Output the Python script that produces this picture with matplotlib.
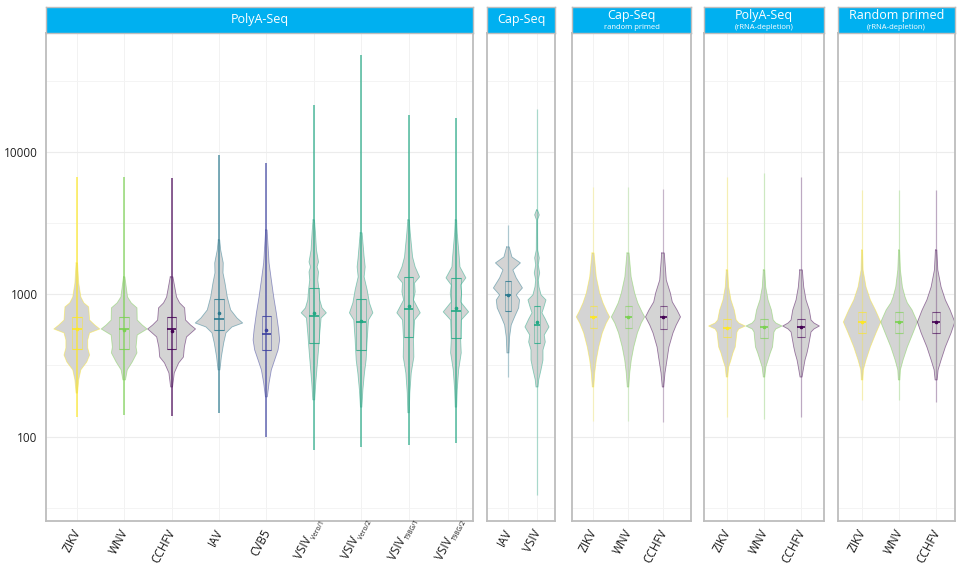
import numpy as np
import matplotlib
matplotlib.use("Agg")
import matplotlib.pyplot as plt
from matplotlib.patches import Rectangle
from matplotlib.textpath import TextPath
from matplotlib.font_manager import FontProperties

plt.rcParams["font.family"] = ["Open Sans", "DejaVu Sans"]

# ---------------- PolyA-Seq ----------------
polya_labels = ["ZIKV", "WNV", "CCHFV", "IAV", "CVB5", "VSIV", "VSIV", "VSIV", "VSIV"]
polya_label_sub = [None, None, None, None, None, "Vero/1", "Vero/2", "T98G/1", "T98G/2"]
polya_colors = ["#fde725", "#7ad151", "#440154", "#2a788e", "#3b3f9e",
                "#22a884", "#22a884", "#22a884", "#22a884"]
polya_min = [137, 142, 140, 146, 100, 80, 85, 87, 90]
polya_max = [6700, 6700, 6600, 9500, 8400, 21500, 48000, 18300, 17400]
polya_q1 = [413, 413, 413, 561, 406, 455, 406, 501, 493]
polya_median = [570, 570, 570, 670, 523, 704, 638, 789, 764]
polya_q3 = [693, 693, 693, 927, 704, 1107, 927, 1324, 1303]
polya_mean = [570, 560, 552, 740, 561, 740, 649, 828, 802]
polya_dens_y = [
    [1660, 1200, 957, 869, 815, 659, 608, 570, 535, 477, 420, 374, 334, 294, 250, 202],
    [1324, 957, 869, 802, 659, 608, 570, 517, 426, 387, 334, 294, 250],
    [1324, 957, 869, 802, 659, 608, 570, 501, 426, 362, 329, 280, 223],
    [2410, 2045, 1660, 1412, 1200, 957, 776, 681, 628, 589, 535, 455, 362, 294],
    [2830, 1660, 1260, 957, 740, 561, 477, 406, 345, 294, 238, 190],
    [3330, 2700, 2045, 1686, 1556, 1435, 1260, 1072, 912, 802, 740, 681, 535, 406, 308, 238, 181],
    [2700, 1828, 1556, 1324, 1072, 869, 740, 659, 477, 345, 280, 212, 161],
    [3330, 2700, 1828, 1556, 1324, 1200, 1038, 912, 740, 659, 477, 362, 280, 202, 147],
    [3330, 2700, 1828, 1556, 1303, 1162, 1021, 883, 752, 659, 477, 387, 294, 212, 161],
]
polya_dens_w = [
    [0.015, 0.04, 0.085, 0.15, 0.25, 0.27, 0.38, 0.485, 0.27, 0.23, 0.23, 0.27, 0.21, 0.085, 0.04, 0.015],
    [0.015, 0.07, 0.15, 0.27, 0.275, 0.38, 0.485, 0.275, 0.25, 0.27, 0.17, 0.065, 0.027],
    [0.028, 0.105, 0.17, 0.275, 0.295, 0.4, 0.505, 0.315, 0.27, 0.25, 0.15, 0.057, 0.02],
    [0.015, 0.036, 0.09, 0.085, 0.127, 0.175, 0.247, 0.38, 0.5, 0.275, 0.148, 0.1, 0.05, 0.02],
    [0.015, 0.057, 0.105, 0.155, 0.21, 0.26, 0.28, 0.247, 0.175, 0.105, 0.057, 0.02],
    [0.015, 0.036, 0.057, 0.1, 0.07, 0.1, 0.085, 0.11, 0.127, 0.175, 0.265, 0.155, 0.127, 0.1, 0.07, 0.042, 0.02],
    [0.02, 0.063, 0.085, 0.063, 0.127, 0.175, 0.247, 0.155, 0.127, 0.105, 0.07, 0.036, 0.015],
    [0.015, 0.036, 0.085, 0.14, 0.232, 0.127, 0.14, 0.105, 0.247, 0.127, 0.105, 0.112, 0.057, 0.027, 0.015],
    [0.015, 0.027, 0.07, 0.085, 0.21, 0.1, 0.12, 0.1, 0.268, 0.112, 0.1, 0.112, 0.057, 0.027, 0.015],
]

# ---------------- Cap-Seq ----------------
cap_labels = ["IAV", "VSIV"]
cap_colors = ["#2a788e", "#22a884"]
cap_min = [262, 39]
cap_max = [3070, 20000]
cap_q1 = [764, 455]
cap_median = [989, 608]
cap_q3 = [1240, 828]
cap_mean = [989, 640]
cap_dens_y = [
    [2150, 1828, 1660, 1482, 1303, 1107, 989, 912, 802, 693, 608, 501, 387],
    [3910, 3610, 3330, 2045, 1800, 1607, 1412, 1260, 1125, 990, 912, 802, 740, 670, 589,
     517, 462, 406, 345, 294, 250, 223],
]
cap_dens_w = [
    [0.045, 0.138, 0.43, 0.172, 0.286, 0.5, 0.286, 0.4, 0.37, 0.23, 0.114, 0.057, 0.034],
    [0.017, 0.08, 0.017, 0.024, 0.08, 0.045, 0.093, 0.045, 0.07, 0.14, 0.31, 0.23, 0.172,
     0.286, 0.414, 0.25, 0.286, 0.207, 0.207, 0.138, 0.059, 0.034],
]

# ---------------- Cap-Seq, random primed ----------------
caprp_labels = ["ZIKV", "WNV", "CCHFV"]
caprp_colors = ["#fde725", "#7ad151", "#440154"]
caprp_min = [128, 128, 127]
caprp_max = [5700, 5700, 5500]
caprp_q1 = [579, 579, 570]
caprp_median = [693, 693, 693]
caprp_q3 = [828, 828, 828]
caprp_mean = [693, 693, 693]
caprp_dens_y = [
    [1950, 1324, 1021, 869, 752, 693, 628, 535, 426, 345, 280, 223],
    [1950, 1324, 1021, 869, 752, 693, 628, 535, 426, 345, 280, 223],
    [1950, 1260, 1021, 883, 776, 693, 608, 535, 426, 345, 280, 223],
]
caprp_dens_w = [
    [0.029, 0.094, 0.19, 0.286, 0.4, 0.477, 0.38, 0.266, 0.163, 0.094, 0.049, 0.02],
    [0.029, 0.09, 0.19, 0.28, 0.4, 0.477, 0.38, 0.27, 0.165, 0.094, 0.05, 0.02],
    [0.037, 0.094, 0.21, 0.266, 0.4, 0.5, 0.38, 0.286, 0.17, 0.114, 0.057, 0.02],
]

# ---------------- PolyA-Seq, rRNA depletion ----------------
polyrd_labels = ["ZIKV", "WNV", "CCHFV"]
polyrd_colors = ["#fde725", "#7ad151", "#440154"]
polyrd_min = [137, 133, 137]
polyrd_max = [6700, 7100, 6700]
polyrd_q1 = [501, 493, 501]
polyrd_median = [579, 589, 589]
polyrd_q3 = [670, 670, 670]
polyrd_mean = [579, 589, 589]
polyrd_dens_y = [
    [1482, 1125, 912, 776, 659, 628, 598, 570, 543, 426, 387, 345, 308, 262],
    [1482, 1125, 912, 776, 659, 628, 598, 570, 543, 426, 387, 345, 308, 262],
    [1482, 1125, 912, 776, 659, 628, 598, 570, 543, 426, 387, 345, 308, 262],
]
polyrd_dens_w = [
    [0.019, 0.046, 0.108, 0.197, 0.25, 0.32, 0.495, 0.32, 0.27, 0.224, 0.162, 0.108, 0.046, 0.019],
    [0.019, 0.046, 0.11, 0.2, 0.25, 0.32, 0.487, 0.32, 0.27, 0.23, 0.17, 0.11, 0.05, 0.019],
    [0.035, 0.073, 0.135, 0.224, 0.27, 0.35, 0.495, 0.35, 0.27, 0.197, 0.162, 0.108, 0.073, 0.027],
]

# ---------------- Random primed, rRNA depletion ----------------
randrd_labels = ["ZIKV", "WNV", "CCHFV"]
randrd_colors = ["#fde725", "#7ad151", "#440154"]
randrd_min = [181, 181, 175]
randrd_max = [5400, 5400, 5400]
randrd_q1 = [535, 535, 535]
randrd_median = [638, 638, 638]
randrd_q3 = [752, 752, 752]
randrd_mean = [638, 638, 638]
randrd_dens_y = [
    [2045, 1482, 1125, 912, 776, 638, 535, 426, 345, 294, 250],
    [2045, 1482, 1125, 957, 869, 776, 638, 535, 426, 345, 294, 250],
    [2045, 1482, 1125, 912, 776, 638, 535, 426, 345, 294, 250],
]
randrd_dens_w = [
    [0.013, 0.027, 0.108, 0.224, 0.36, 0.505, 0.378, 0.224, 0.108, 0.035, 0.019],
    [0.013, 0.035, 0.09, 0.162, 0.224, 0.35, 0.495, 0.378, 0.224, 0.108, 0.035, 0.019],
    [0.019, 0.046, 0.135, 0.25, 0.378, 0.505, 0.405, 0.25, 0.135, 0.054, 0.027],
]

# panel titles
titles = ["PolyA-Seq", "Cap-Seq", "Cap-Seq", "PolyA-Seq", "Random primed"]
subtitles = [None, None, "random primed", "(rRNA-depletion)", "(rRNA-depletion)"]

# ---------------- styling / layout ----------------
W, H = 962, 569
VIOLIN_FILL = "#d4d4d4"
HEADER = "#00b0f0"
FRAME = "#bdbdbd"
Y_LIM = (25.5, 68500)
LABEL_SIZE = 8.5
SUB_SIZE = 4.8
ANGLE = 62.0

panels = [
    dict(lab=polya_labels, sub=polya_label_sub, col=polya_colors, lo=polya_min, hi=polya_max,
         q1=polya_q1, med=polya_median, q3=polya_q3, mean=polya_mean,
         dy=polya_dens_y, dw=polya_dens_w,
         px=(46, 473), xlim=(0.35, 9.36), pt_alpha=0.8, pt_lw=1.1, box_alpha=0.5),
    dict(lab=cap_labels, sub=None, col=cap_colors, lo=cap_min, hi=cap_max,
         q1=cap_q1, med=cap_median, q3=cap_q3, mean=cap_mean,
         dy=cap_dens_y, dw=cap_dens_w,
         px=(487, 555), xlim=(0.28, 2.62), pt_alpha=0.35, pt_lw=0.9, box_alpha=0.45),
    dict(lab=caprp_labels, sub=None, col=caprp_colors, lo=caprp_min, hi=caprp_max,
         q1=caprp_q1, med=caprp_median, q3=caprp_q3, mean=caprp_mean,
         dy=caprp_dens_y, dw=caprp_dens_w,
         px=(572, 691), xlim=(0.4, 3.8), pt_alpha=0.25, pt_lw=0.9, box_alpha=0.25),
    dict(lab=polyrd_labels, sub=None, col=polyrd_colors, lo=polyrd_min, hi=polyrd_max,
         q1=polyrd_q1, med=polyrd_median, q3=polyrd_q3, mean=polyrd_mean,
         dy=polyrd_dens_y, dw=polyrd_dens_w,
         px=(704, 824), xlim=(0.38, 3.62), pt_alpha=0.3, pt_lw=0.9, box_alpha=0.3),
    dict(lab=randrd_labels, sub=None, col=randrd_colors, lo=randrd_min, hi=randrd_max,
         q1=randrd_q1, med=randrd_median, q3=randrd_q3, mean=randrd_mean,
         dy=randrd_dens_y, dw=randrd_dens_w,
         px=(838, 955), xlim=(0.35, 3.51), pt_alpha=0.3, pt_lw=0.9, box_alpha=0.3),
]

fig = plt.figure(figsize=(W / 100, H / 100), dpi=100)
fig.patch.set_facecolor("white")

TOP_HDR, TOP_PLOT, BOTTOM = 7, 33, 521
PT = 0.72  # points per pixel at 100 dpi

rad = np.deg2rad(ANGLE)
d_vec = np.array([np.cos(rad), np.sin(rad)])      # along the rotated baseline
n_vec = np.array([-np.sin(rad), np.cos(rad)])     # "up" for the rotated text
sub_prop = FontProperties(family="Open Sans", size=SUB_SIZE)


def rect(x0, x1, y0, y1):
    return [x0 / W, 1 - y1 / H, (x1 - x0) / W, (y1 - y0) / H]


def rotated_label(ax, x, text, sub):
    """Slanted category label whose upper end sits just under the tick."""
    anchor = np.array([1.0, -9.0]) * PT
    kw = dict(xycoords=("data", "axes fraction"), textcoords="offset points",
              rotation=ANGLE, rotation_mode="anchor", va="center",
              annotation_clip=False, color="#1a1a1a")
    if sub:
        ws = TextPath((0, 0), sub, size=SUB_SIZE, prop=sub_prop).get_extents().width
        main_end = anchor - d_vec * ws * 0.55 + np.array([-1.0, 2.0]) * PT
        ax.annotate(text, (x, 0), xytext=tuple(main_end), ha="right",
                    fontsize=LABEL_SIZE, **kw)
        sub_start = main_end - n_vec * 3.4 + d_vec * 0.6
        ax.annotate(sub, (x, 0), xytext=tuple(sub_start), ha="left",
                    fontsize=SUB_SIZE, **kw)
    else:
        ax.annotate(text, (x, 0), xytext=tuple(anchor), ha="right",
                    fontsize=LABEL_SIZE, **kw)


for k, p in enumerate(panels):
    x0, x1 = p["px"]
    ax = fig.add_axes(rect(x0, x1, TOP_PLOT, BOTTOM))
    ax.set_yscale("log")
    ax.set_ylim(*Y_LIM)
    ax.set_xlim(*p["xlim"])
    n = len(p["lab"])
    pos = np.arange(1, n + 1)

    # grid
    ax.set_yticks([100, 1000, 10000])
    ax.set_yticks([10 ** 1.5, 10 ** 2.5, 10 ** 3.5, 10 ** 4.5], minor=True)
    ax.yaxis.grid(True, which="major", color="#ececec", lw=0.8, zorder=0)
    ax.yaxis.grid(True, which="minor", color="#f4f4f4", lw=0.7, zorder=0)
    for xp in pos:
        ax.axvline(xp, color="#f2f2f2", lw=0.7, zorder=0)
    ax.set_axisbelow(True)

    for i in range(n):
        xc = pos[i]
        col = p["col"][i]
        y = np.asarray(p["dy"][i], float)
        w = np.asarray(p["dw"][i], float)
        xs = np.r_[xc - w, (xc + w)[::-1]]
        ys = np.r_[y, y[::-1]]
        ax.fill(xs, ys, facecolor=VIOLIN_FILL, edgecolor="none", zorder=2)
        ax.plot(np.r_[xs, xs[0]], np.r_[ys, ys[0]], color=col, lw=0.6,
                alpha=0.5, zorder=2.5)
        # individual reads, drawn as a narrow strip
        ax.vlines(xc, p["lo"][i], p["hi"][i], colors=col, lw=p["pt_lw"],
                  alpha=p["pt_alpha"], zorder=3)
        # box plot
        bw = 0.1
        ax.add_patch(Rectangle((xc - bw, p["q1"][i]), 2 * bw, p["q3"][i] - p["q1"][i],
                               fill=False, edgecolor=col, lw=0.6,
                               alpha=p["box_alpha"], zorder=4))
        ax.hlines([p["q1"][i], p["q3"][i]], xc - bw, xc + bw, colors=col, lw=0.8,
                  alpha=min(1, p["box_alpha"] + 0.2), zorder=4)
        ax.hlines(p["med"][i], xc - bw, xc + bw, colors=col, lw=1.2, zorder=5)
        ax.plot([xc], [p["mean"][i]], "o", ms=1.6, color=col, zorder=5)

    ax.set_xticks(pos)
    ax.set_xticklabels([])
    ax.tick_params(axis="x", length=0)
    subs = p["sub"] if p["sub"] is not None else [None] * n
    for i in range(n):
        rotated_label(ax, pos[i], p["lab"][i], subs[i])

    ax.tick_params(axis="y", which="both", length=0)
    if k == 0:
        ax.set_yticklabels(["100", "1000", "10000"], fontsize=8.5, color="#222222")
        ax.tick_params(axis="y", pad=6)
    else:
        ax.set_yticklabels([])
    ax.set_yticklabels([], minor=True)
    for s in ax.spines.values():
        s.set_color(FRAME)
        s.set_linewidth(1.3)

    # strip header
    hx = fig.add_axes(rect(x0, x1, TOP_HDR, TOP_PLOT))
    hx.set_facecolor(HEADER)
    hx.set_xticks([])
    hx.set_yticks([])
    for s in hx.spines.values():
        s.set_color(FRAME)
        s.set_linewidth(1.0)
    if subtitles[k] is None:
        hx.text(0.5, 0.5, titles[k], color="white", fontsize=9,
                ha="center", va="center", transform=hx.transAxes)
    else:
        hx.text(0.5, 0.68, titles[k], color="white", fontsize=9,
                ha="center", va="center", transform=hx.transAxes)
        hx.text(0.5, 0.2, subtitles[k], color="white", fontsize=5.5,
                ha="center", va="center", transform=hx.transAxes)

fig.savefig("out.png", dpi=100, facecolor="white")
